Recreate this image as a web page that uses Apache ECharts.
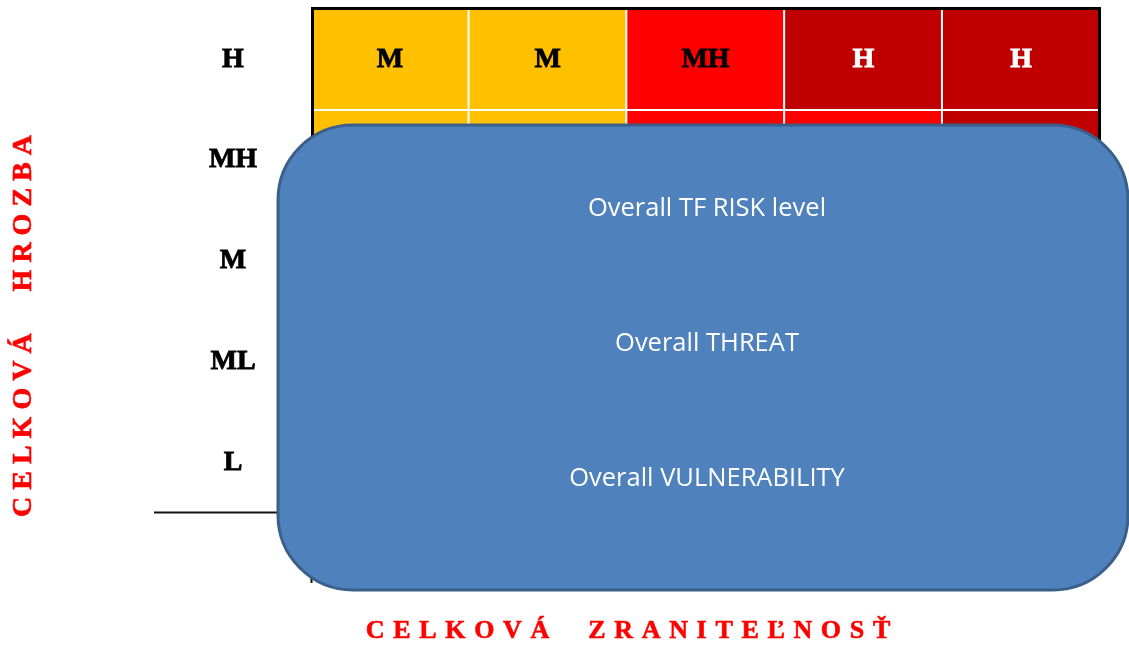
<!DOCTYPE html>
<html><head><meta charset="utf-8">
<script src="https://cdn.jsdelivr.net/npm/echarts@6/dist/echarts.min.js"></script>
<style>html,body{margin:0;padding:0;background:#fff}#c{width:1129px;height:645px}</style>
</head><body><div id="c"></div>
<script>
// ---- data ----
const vulnerabilityLevels = ['L', 'ML', 'M', 'MH', 'H'];   // x categories (left -> right)
const threatLevels = ['L', 'ML', 'M', 'MH', 'H'];          // y categories (bottom -> top)
const riskRowH  = ['M', 'M', 'MH', 'H', 'H'];
const riskRowMH = ['M', 'M', 'MH', 'MH', 'H'];
const riskRowM  = ['ML', 'M', 'M', 'MH', 'MH'];
const riskRowML = ['ML', 'ML', 'M', 'M', 'MH'];
const riskRowL  = ['L', 'ML', 'ML', 'M', 'M'];
const boxLabels = ['Overall TF RISK level', 'Overall THREAT', 'Overall VULNERABILITY'];
const xTitle = 'CELKOVÁ ZRANITEĽNOSŤ';
const yTitle = 'CELKOVÁ HROZBA';

// ---- styling ----
const levelNames = ['L', 'ML', 'M', 'MH', 'H'];
const levelColors = ['#00B050', '#92D050', '#FFC000', '#FF0000', '#C00000'];
const levelTextColors = ['#000', '#000', '#000', '#000', '#fff'];
const serif = '"Liberation Serif", "Times New Roman", serif';

const rows = [riskRowL, riskRowML, riskRowM, riskRowMH, riskRowH];
const cells = [];
rows.forEach((row, yi) => row.forEach((lv, xi) => {
  const k = levelNames.indexOf(lv);
  cells.push({ value: [xi, yi, k], itemStyle: { color: levelColors[k] },
    label: { color: levelTextColors[k], textBorderColor: levelTextColors[k] } });
}));

function spaced(t, letterGap, wordGap) {
  return t.split(' ').map(w => Array.from(w).join(letterGap)).join(wordGap);
}

const boxText = (i, y) => ({
  type: 'text', z: 101, x: 707, y: y,
  style: { text: boxLabels[i], fill: '#fff', fontSize: 25.5, fontFamily: '"Open Sans"',
           align: 'center', verticalAlign: 'middle' }
});

const chart = echarts.init(document.getElementById('c'));
chart.setOption({
  animation: false,
  backgroundColor: '#fff',
  grid: { left: 311, top: 9, right: 29, bottom: 132 },
  xAxis: {
    type: 'category', data: vulnerabilityLevels,
    axisLabel: { show: false }, axisLine: { show: false }, axisTick: { show: false }, splitLine: { show: false }
  },
  yAxis: {
    type: 'category', data: threatLevels,
    axisLine: { show: false }, axisTick: { show: false }, splitLine: { show: false },
    axisLabel: { margin: 78, align: 'center', fontSize: 28, fontWeight: 'bold', fontFamily: serif, color: '#000',
                 textBorderColor: '#000', textBorderWidth: 0.8 }
  },
  series: [{
    type: 'heatmap',
    data: cells,
    itemStyle: { borderColor: '#fff', borderWidth: 2 },
    label: {
      show: true, fontSize: 28, fontWeight: 'bold', fontFamily: serif, textBorderWidth: 0.8,
      formatter: p => levelNames[p.value[2]]
    },
    emphasis: { disabled: true }
  }],
  graphic: [
    { type: 'rect', z: 50, shape: { x: 312.5, y: 8.5, width: 787, height: 504 },
      style: { fill: 'none', stroke: '#000', lineWidth: 3 } },
    { type: 'line', z: 50, shape: { x1: 154, y1: 512.5, x2: 320, y2: 512.5 },
      style: { stroke: '#111', lineWidth: 2 } },
    { type: 'line', z: 50, shape: { x1: 311.5, y1: 505, x2: 311.5, y2: 583 },
      style: { stroke: '#111', lineWidth: 2 } },
    { type: 'rect', z: 100, shape: { x: 278, y: 125, width: 850, height: 465, r: 75 },
      style: { fill: '#4F81BD', stroke: '#3A5F8B', lineWidth: 3 } },
    boxText(0, 209), boxText(1, 344), boxText(2, 479),
    { type: 'text', z: 101, x: 628, y: 631,
      style: { text: spaced(xTitle, ' \u200A', '\u2002\u2002\u2002'), fill: '#FF0000',
               fontSize: 26, fontWeight: 'bold', fontFamily: serif, align: 'center', verticalAlign: 'middle',
               stroke: '#FF0000', lineWidth: 0.6 } },
    { type: 'text', z: 101, x: 24, y: 326, rotation: Math.PI / 2,
      style: { text: spaced(yTitle, ' ', '\u2002\u2002  '), fill: '#FF0000',
               fontSize: 28, fontWeight: 'bold', fontFamily: serif, align: 'center', verticalAlign: 'middle',
               stroke: '#FF0000', lineWidth: 0.6 } }
  ]
});
</script>
</body></html>
